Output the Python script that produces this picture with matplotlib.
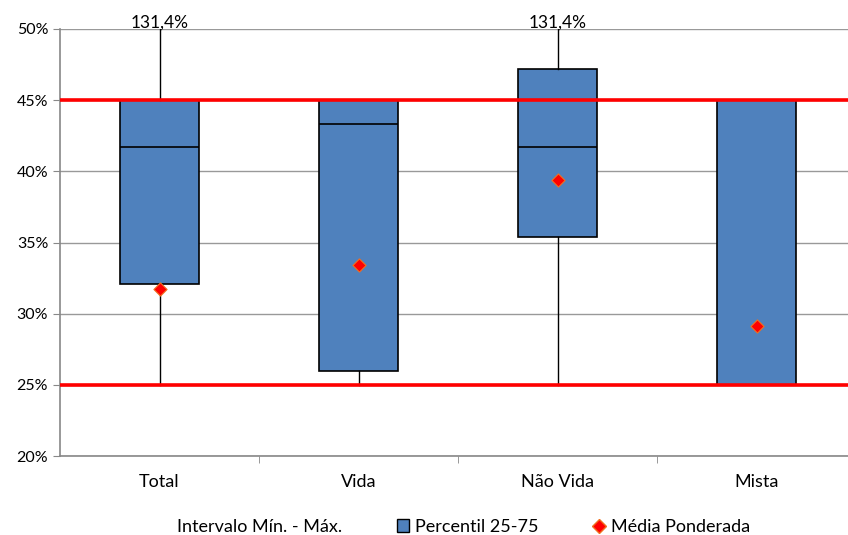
import matplotlib
matplotlib.use("Agg")
import matplotlib.pyplot as plt
from matplotlib.lines import Line2D
from matplotlib.patches import Patch
from matplotlib.ticker import FuncFormatter

plt.rcParams['font.family'] = ['Lato', 'DejaVu Sans']

categories = ["Total", "Vida", "Não Vida", "Mista"]
minimo = [0.25, 0.25, 0.25, 0.25]
p25 = [0.321, 0.260, 0.354, 0.25]
mediana = [0.417, 0.433, 0.417, 0.45]
p75 = [0.45, 0.45, 0.472, 0.45]
maximo = [1.314, 0.45, 1.314, 0.45]
media = [0.317, 0.334, 0.394, 0.291]
limite_inf = 0.25
limite_sup = 0.45
yticks = [0.20, 0.25, 0.30, 0.35, 0.40, 0.45, 0.50]

fig = plt.figure(figsize=(8.48, 5.35), dpi=100)
ax = fig.add_axes([60/848, 1-456/535, 788/848, 427/535])

box_color = "#4F81BD"
stats = []
for i, c in enumerate(categories):
    stats.append(dict(label=c, whislo=minimo[i], q1=p25[i], med=mediana[i],
                      q3=p75[i], whishi=maximo[i], fliers=[]))
pos = list(range(1, len(categories)+1))
ax.bxp(stats, positions=pos, widths=0.4, patch_artist=True, showcaps=False,
       boxprops=dict(facecolor=box_color, edgecolor="black", linewidth=1.2),
       medianprops=dict(color="black", linewidth=1.2),
       whiskerprops=dict(color="black", linewidth=1.0), zorder=3)

ax.axhline(limite_sup, color="#FF0000", lw=2.6, zorder=4)
ax.axhline(limite_inf, color="#FF0000", lw=2.6, zorder=4)

ax.scatter(pos, media, marker="D", s=45, color="#FF0000", edgecolors="#F07020",
           linewidths=0.8, zorder=5)

for i, v in enumerate(maximo):
    if v > yticks[-1]:
        ax.text(pos[i], yticks[-1] - 0.001, f"{v*100:.1f}%".replace(".", ","),
                ha="center", va="bottom", fontsize=12.5, color="black",
                clip_on=False)

ax.set_ylim(yticks[0], yticks[-1])
ax.set_xlim(0.5, 0.5 + 788/199)
ax.set_yticks(yticks)
ax.yaxis.set_major_formatter(FuncFormatter(lambda v, p: f"{v*100:.0f}%"))
ax.set_xticks(pos)
ax.set_xticklabels(categories)
ax.set_xticks([1.5, 2.5, 3.5], minor=True)
ax.tick_params(axis="x", which="major", length=0, pad=13, labelsize=13)
ax.tick_params(axis="x", which="minor", length=5, color="#888888")
ax.tick_params(axis="y", length=5, color="#888888", labelsize=11.5)
ax.grid(axis="y", color="#999999", lw=1.0, zorder=0)
ax.set_axisbelow(True)
for s in ["top", "right"]:
    ax.spines[s].set_visible(False)
for s in ["left", "bottom"]:
    ax.spines[s].set_color("#888888")
    ax.spines[s].set_linewidth(1.2)

handles = [Line2D([], [], linestyle="none"),
           Patch(facecolor=box_color, edgecolor="black"),
           Line2D([], [], marker="D", linestyle="none", color="#FF0000",
                  markeredgecolor="#F07020", markersize=7)]
labels = ["Intervalo Mín. - Máx.", "Percentil 25-75", "Média Ponderada"]
fig.legend(handles, labels, loc="center", bbox_to_anchor=(0.536, 1-527/535),
           ncol=3, frameon=False, fontsize=13, handlelength=0.7,
           handletextpad=0.3, columnspacing=3.0)

fig.savefig("out.png", dpi=100)
